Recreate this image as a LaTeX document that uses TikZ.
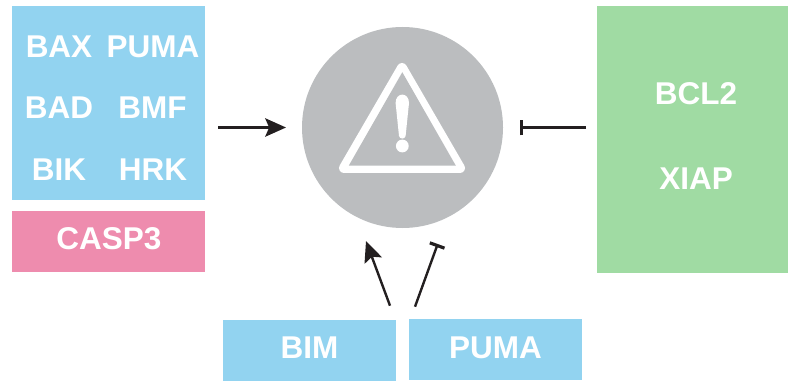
\documentclass[tikz,border=0pt]{standalone}
\usepackage{fontspec}
\setmainfont{Liberation Sans}
\usetikzlibrary{arrows.meta}
\definecolor{boxblue}{HTML}{92D3F0}
\definecolor{boxpink}{HTML}{EE8CAE}
\definecolor{boxgreen}{HTML}{A0DBA3}
\definecolor{signgray}{HTML}{BBBDBF}
\definecolor{linkblack}{HTML}{231F20}
\tikzset{
	genebox/.style={inner sep=0pt,outer sep=0pt},
	genetext/.style={text=white,inner sep=0pt,yshift=-.02cm,font=\fontsize{22.4}{22.4}\selectfont\bfseries},
	activates/.style={linkblack,line width=.06cm,-{Stealth[length=.52cm,width=.46cm,inset=.1cm]}},
	inhibits/.style={linkblack,line width=.06cm,-{Bar[width=.39cm,line width=.08cm]}}
}
\begin{document}
\begin{tikzpicture}
	\useasboundingbox (0,0) rectangle (19.7,9.525);
	\node[genebox,fill=boxblue,minimum width=4.825cm,minimum height=4.85cm] (probox) at (2.7125,6.95) {};
	\node[genebox,fill=boxpink,minimum width=4.825cm,minimum height=1.5cm] (caspbox) at (2.7125,3.4875) {};
	\node[genebox,fill=boxgreen,minimum width=4.775cm,minimum height=6.675cm] (antibox) at (17.3125,6.0375) {};
	\node[genebox,fill=boxblue,minimum width=4.325cm,minimum height=1.525cm] (bimbox) at (7.7375,.7625) {};
	\node[genebox,fill=boxblue,minimum width=4.325cm,minimum height=1.525cm] (pumabox) at (12.3875,.7875) {};
	\node[genetext] (bax) at (1.475,8.375) {BAX};
	\node[genetext] (puma) at (3.825,8.375) {PUMA};
	\node[genetext] (bad) at (1.475,6.85) {BAD};
	\node[genetext] (bmf) at (3.8125,6.85) {BMF};
	\node[genetext] (bik) at (1.475,5.3) {BIK};
	\node[genetext] (hrk) at (3.825,5.3) {HRK};
	\node[genetext] (casp) at (2.725,3.5825) {CASP3};
	\node[genetext] (bcl) at (17.4,7.2) {BCL2};
	\node[genetext] (xiap) at (17.4,5.075) {XIAP};
	\node[genetext] (bim) at (7.7375,.85) {BIM};
	\node[genetext] (pumalow) at (12.3875,.85) {PUMA};
	% warning sign
	\node[circle,fill=signgray,inner sep=0pt,outer sep=0pt,minimum size=5.025cm] (stress) at (10.0625,6.3375) {};
	\draw[white,fill=white,line width=.25cm,line join=round] (10.05,7.825) -- (8.6,5.325) -- (11.5,5.325) -- cycle;
	\fill[signgray] (10.0575,7.72) -- (8.72,5.385) -- (11.395,5.385) -- cycle;
	\fill[white] (9.89,6.95) .. controls (9.89,7.23) and (10.225,7.23) .. (10.225,6.95) -- (10.14,6.125) .. controls (10.12,6.04) and (9.995,6.04) .. (9.975,6.125) -- cycle;
	\fill[white] (10.0575,5.875) circle (.16);
	% links
	\coordinate (prostart) at (5.45,6.3375);
	\coordinate (antistart) at (14.65,6.3375);
	\coordinate (bimstart) at (9.75,1.8825);
	\coordinate (bimend) at (9.15,3.5);
	\coordinate (pumastart) at (10.375,1.8575);
	\coordinate (pumaend) at (10.9425,3.425);
	\draw[activates,shorten >=.4cm] (prostart) -- (stress.west);
	\draw[inhibits,shorten >=.42cm] (antistart) -- (stress.east);
	\draw[activates] (bimstart) -- (bimend);
	\draw[inhibits] (pumastart) -- (pumaend);
\end{tikzpicture}
\end{document}
